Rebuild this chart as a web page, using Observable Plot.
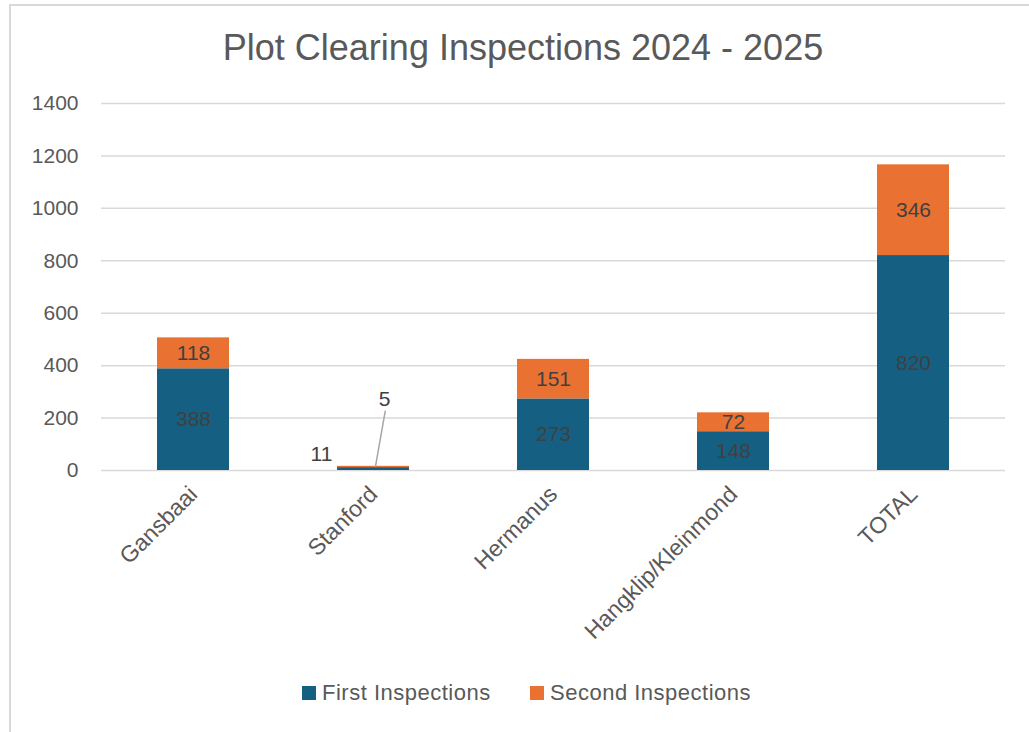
<!DOCTYPE html>
<html>
<head>
<meta charset="utf-8">
<script src="https://cdn.jsdelivr.net/npm/d3@7"></script>
<script src="https://cdn.jsdelivr.net/npm/@observablehq/plot@0.6"></script>
<style>
  html, body { margin: 0; padding: 0; background: #fff; }
  #wrap { position: relative; width: 1029px; height: 732px; overflow: hidden; background: #fff; }
  #frame { position: absolute; left: 9px; top: 4px; width: 1040px; height: 760px; border-left: 2px solid #d9d9d9; border-top: 2px solid #d9d9d9; box-sizing: border-box; }
  #title { position: absolute; left: 0; width: 1046px; top: 26px; text-align: center; font-family: "Liberation Sans Narrow", "Liberation Sans", Arial, sans-serif; font-size: 36px; color: #595959; line-height: 44px; }
  #chart { position: absolute; left: 0; top: 0; }
  #legend { position: absolute; left: 0; top: 680px; width: 1029px; font-family: "Liberation Sans", Arial, sans-serif; font-size: 22px; letter-spacing: 0.5px; color: #595959; }
  .item { position: absolute; top: 0; display: flex; align-items: center; height: 26px; }
  .sw { width: 14px; height: 14px; margin-right: 6px; }
</style>
</head>
<body>
<div id="wrap">
  <div id="frame"></div>
  <div id="chart"></div>
  <div id="title"></div>
  <div id="legend"></div>
</div>
<script>
const titleText = "Plot Clearing Inspections 2024 - 2025";
const categories = ["Gansbaai", "Stanford", "Hermanus", "Hangklip/Kleinmond", "TOTAL"];
const seriesNames = ["First Inspections", "Second Inspections"];
const firstInspections = [388, 11, 273, 148, 820];
const secondInspections = [118, 5, 151, 72, 346];
const yTicks = [0, 200, 400, 600, 800, 1000, 1200, 1400];
const colors = ["#156082", "#E97132"];

const rows = [];
categories.forEach((c, i) => {
  rows.push({category: c, series: seriesNames[0], value: firstInspections[i]});
  rows.push({category: c, series: seriesNames[1], value: secondInspections[i]});
});

const smallCat = "Stanford";
const si = categories.indexOf(smallCat);
const smallFirst = [{category: smallCat, y: firstInspections[si] / 2, text: String(firstInspections[si])}];
const smallSecond = [{category: smallCat, y: firstInspections[si] + secondInspections[si], text: String(secondInspections[si])}];

document.getElementById("title").textContent = titleText;

const font = '"Liberation Sans", Arial, sans-serif';

const chart = Plot.plot({
  width: 1029,
  height: 650,
  marginLeft: 101,
  marginRight: 24,
  marginTop: 103,
  marginBottom: 180,
  style: {fontFamily: font, fontSize: "21px", color: "#595959", background: "transparent", overflow: "visible"},
  x: {domain: categories, paddingInner: 0.6, paddingOuter: 0.3, label: null},
  y: {domain: [0, 1400], label: null},
  color: {domain: seriesNames, range: colors},
  marks: [
    Plot.gridY(yTicks, {stroke: "#d9d9d9", strokeOpacity: 1, strokeWidth: 1.5}),
    Plot.axisY(yTicks, {tickSize: 0, tickPadding: 23, fontSize: 21, fill: "#595959", label: null, tickFormat: d => String(d)}),
    Plot.axisX({tickSize: 0, tickRotate: -45, fontSize: 23, fill: "#595959", tickPadding: 20, label: null}),
    Plot.barY(rows, {x: "category", y: "value", fill: "series", z: "series", order: seriesNames}),
    Plot.text(rows, Plot.stackY({
      x: "category", y: "value", z: "series", order: seriesNames,
      text: d => d.category === smallCat ? "" : String(d.value),
      fill: "#404040", fontSize: 21
    })),
    Plot.text(smallFirst, {x: "category", y: "y", text: "text", dx: -52, dy: -15, fill: "#404040", fontSize: 21}),
    Plot.text(smallSecond, {x: "category", y: "y", text: "text", dx: 11, dy: -67, fill: "#404040", fontSize: 21}),
    Plot.vector(smallSecond, {
      x: "category", y: "y", dx: 2, length: 56, rotate: 10, anchor: "start",
      stroke: "#a6a6a6", strokeWidth: 1.5,
      shape: {draw(context, l) { context.moveTo(0, 0); context.lineTo(0, -l); }}
    })
  ]
});
document.getElementById("chart").appendChild(chart);

const legend = document.getElementById("legend");
const lefts = [302, 530];
seriesNames.forEach((s, i) => {
  const it = document.createElement("div");
  it.className = "item";
  it.style.left = lefts[i] + "px";
  const sw = document.createElement("div");
  sw.className = "sw";
  sw.style.background = colors[i];
  const tx = document.createElement("span");
  tx.textContent = s;
  it.appendChild(sw);
  it.appendChild(tx);
  legend.appendChild(it);
});
</script>
</body>
</html>
